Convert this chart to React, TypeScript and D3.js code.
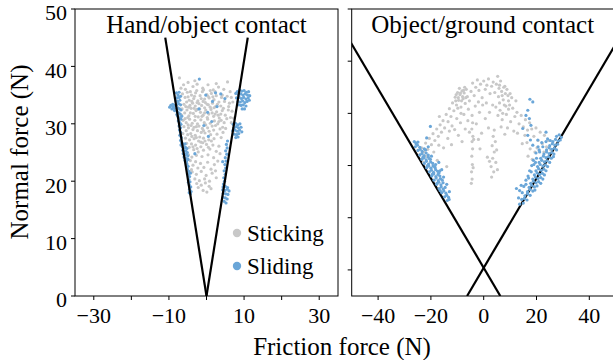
import React from 'react';
import * as d3 from 'd3';

type P = [number, number];

// ---------- data (friction force F, normal force N) ----------
const handSticking: P[] = [
[-7.2,38.0],[-6.1,36.8],[-4.9,37.2],[-3.6,36.5],[-2.5,36.9],[-1.0,36.2],[0.4,36.8],[1.8,35.9],[3.2,36.4],[5.6,37.3],[4.6,36.0],[6.3,35.6],
[-6.4,35.2],[-5.7,34.6],[-5.1,35.5],[-4.6,34.1],[-4.0,35.0],[-3.4,34.4],[-2.9,35.4],[-2.3,34.0],[-1.7,34.9],[-1.1,35.6],[-0.5,34.3],[0.1,35.1],[0.7,34.5],[1.3,35.3],[2.0,34.2],[2.6,34.9],[3.3,33.8],[4.0,34.6],[4.8,33.9],[5.5,34.8],[6.1,33.6],[-6.0,33.4],[-5.3,33.8],[-4.4,33.2],[-3.7,33.6],[-3.0,33.1],[-2.0,33.5],[-1.3,33.2],[-0.3,33.7],[0.5,33.3],[1.6,33.6],[2.4,33.0],
[-6.5,32.6],[-5.8,31.9],[-5.2,32.4],[-4.7,31.4],[-4.1,32.7],[-3.5,31.8],[-2.8,32.3],[-2.2,31.2],[-1.6,32.0],[-0.9,31.5],[-0.2,32.4],[0.6,31.7],[1.2,32.5],[1.9,31.3],[2.7,32.1],[3.4,31.0],[4.2,32.3],[5.0,31.5],[5.8,32.4],[6.4,31.1],[-6.2,30.6],[-5.4,30.2],[-4.5,30.8],[-3.8,30.1],[-3.1,30.6],[-2.4,30.0],[-1.5,30.7],[-0.6,30.2],[0.3,30.8],[1.0,30.1],[2.1,30.5],[3.0,30.0],[3.9,30.6],[4.7,30.2],
[-6.0,29.5],[-5.4,28.8],[-4.8,29.3],[-4.2,28.3],[-3.6,29.0],[-3.0,28.0],[-2.4,28.8],[-1.8,27.7],[-1.1,29.2],[-0.4,28.4],[0.3,29.3],[1.1,28.1],[1.9,28.9],[2.8,28.2],[3.6,29.1],[-5.6,27.5],[-4.5,27.2],[-3.3,27.4],[-2.1,27.0],[-0.8,27.5],[0.6,27.2],[2.0,27.4],[-0.2,29.8],
[-5.3,26.6],[-4.6,25.9],[-4.0,26.5],[-3.4,25.5],[-2.9,26.3],[-2.2,25.1],[-1.5,26.0],[-0.8,25.4],[0.0,26.4],[0.9,25.6],[1.7,26.3],[2.6,25.2],[3.3,26.1],[-4.8,24.6],[-3.9,24.2],[-2.7,24.5],[-1.2,24.3],[0.4,24.6],[1.9,24.1],[3.6,24.8],
[-4.3,23.6],[-3.6,22.8],[-2.9,23.4],[-2.3,22.3],[-1.6,23.1],[-0.7,22.4],[0.3,23.3],[1.2,22.1],[2.1,22.9],[3.0,23.5],[-3.8,21.6],[-2.7,21.2],[-1.4,21.7],[-0.1,21.0],[1.5,21.4],[2.6,20.6],[-3.1,20.4],[-1.9,20.1],[0.8,20.0],
[-2.6,19.6],[-1.4,19.3],[-0.3,19.7],[0.7,19.1],[-0.9,18.4],[1.2,18.7],
[-4.9,34.7],[-4.3,35.6],[-3.2,34.8],[-2.6,35.8],[-1.4,34.4],[-0.8,35.9],[0.4,34.8],[1.0,35.8],[1.7,34.7],[2.3,35.6],
[-5.5,33.0],[-4.8,32.9],[-3.9,33.9],[-3.3,32.7],[-2.5,33.7],[-1.8,32.6],[-0.9,33.9],[-0.5,32.8],[0.2,33.4],[1.0,32.9],[2.0,32.8],[2.9,33.4],[3.8,33.1],[4.5,32.7],
[-5.0,31.1],[-4.3,31.9],[-3.0,31.3],[-2.5,32.5],[-1.2,31.3],[-0.5,31.9],[0.2,31.1],[1.5,31.9],[2.3,31.7],[3.1,31.5],[3.8,31.7],
[-5.7,30.9],[-4.9,29.8],[-4.1,29.7],[-3.3,29.4],[-2.7,29.5],[-2.0,29.6],[-1.4,28.5],[-0.8,28.8],[0.7,28.7],[1.5,29.6],[2.4,29.7],[3.3,30.4],[4.3,29.4],
[-5.0,28.1],[-3.9,27.8],[-2.7,27.6],[-1.5,26.8],[-0.4,27.0],[1.3,27.0],[-3.6,26.0],[-2.5,25.7],[-1.0,26.7],[0.5,25.9],
[6.8,32.2],[7.2,31.0],[6.6,30.2],[5.4,30.9],[5.1,29.2],
[-6.8,36.2],[-5.6,36.0],[-3.1,37.5],[2.6,37.0],[4.2,35.0],[6.6,34.6],[7.0,33.8],[5.9,33.0],[-6.6,31.5],[-6.3,28.3],[3.9,27.6],[4.4,28.5],[-4.0,22.0],[2.4,21.8],[-0.5,20.4],[-2.2,18.9],[0.1,18.1]
];

const handSliding: P[] = [
[-9.8,32.9],[-9.5,33.2],[-9.2,32.6],[-8.9,33.0],[-8.6,32.7],[-8.3,33.2],[-9.0,33.4],[-8.5,32.3],
[-8.0,35.4],[-7.6,35.0],[-7.9,34.5],[-7.3,34.6],[-7.7,33.9],[-7.1,34.1],[-7.9,33.3],[-7.4,33.5],[-6.9,33.3],[-7.6,32.8],[-7.2,32.6],[-6.8,32.4],[-7.8,32.1],[-7.4,31.9],[-7.0,31.7],[-7.6,31.3],[-7.2,31.0],[-6.8,30.8],[-7.5,30.5],[-7.1,30.2],[-6.8,29.9],[-7.3,29.6],[-6.9,29.3],[-8.1,34.0],[-7.3,35.5],[-6.9,34.8],[-7.9,31.6],[-6.6,31.3],
[-7.2,28.9],[-6.9,28.5],[-7.1,28.0],[-6.7,27.6],[-6.9,27.1],[-6.6,26.7],[-6.8,26.3],
[-6.5,26.6],[-6.1,26.4],[-5.7,26.5],[-6.4,26.0],[-6.0,25.8],[-5.6,25.9],[-5.2,25.7],[-6.3,25.4],[-5.9,25.2],[-5.5,25.3],[-5.1,25.0],[-6.2,24.8],[-5.8,24.6],[-5.4,24.7],[-5.0,24.4],[-6.0,24.2],[-5.6,24.0],[-5.2,23.9],[-5.7,23.6],[-5.3,23.4],[-4.9,23.8],
[-5.2,23.0],[-4.9,22.6],[-5.1,22.1],[-4.7,21.7],[-4.9,21.2],[-4.5,20.8],[-4.7,20.3],[-4.4,19.9],[-4.6,19.4],[-4.2,19.0],[-4.5,18.6],[-4.1,18.2],[-4.3,17.8],[-4.6,18.0],[-4.8,19.8],[-4.3,21.4],
[-1.9,37.8],[1.6,33.9],[-2.0,32.6],[0.3,32.0],[2.8,33.0],[3.8,35.2],[2.4,35.4],[-0.7,29.7],[1.4,30.4],[-3.1,24.8],[0.5,27.8],[4.9,34.4],[-0.2,35.0],
[8.2,35.6],[8.8,35.9],[9.4,35.7],[10.0,35.8],[10.6,35.5],[11.2,35.6],[8.5,35.1],[9.1,35.2],[9.7,35.0],[10.3,35.2],[10.9,35.0],[11.5,34.9],[8.0,34.5],[8.7,34.6],[9.3,34.4],[9.9,34.6],[10.5,34.3],[11.1,34.5],[8.4,33.9],[9.0,33.8],[9.6,34.0],[10.2,33.7],[10.8,33.9],[11.4,34.1],[9.2,33.2],[9.8,33.3],[10.5,33.1],[10.1,32.6],[9.5,32.6],[8.6,33.3],[7.8,35.3],
[7.1,29.9],[7.7,30.1],[8.3,29.8],[8.9,30.0],[7.3,29.3],[7.9,29.5],[8.5,29.3],[9.2,29.4],[7.0,28.8],[7.6,28.9],[8.2,28.7],[8.8,28.9],[9.4,28.6],[7.4,28.2],[8.0,28.1],[8.6,28.3],[7.8,27.6],[8.4,27.7],
[5.6,27.0],[5.3,26.4],[5.5,25.8],[5.1,25.3],[5.4,24.7],[5.0,24.1],[5.2,23.5],[4.9,22.9],[5.1,22.3],[4.7,21.8],[5.0,21.2],[4.6,20.6],[4.8,20.0],[4.5,19.5],[4.3,23.4],
[4.4,19.0],[5.0,19.1],[5.6,18.9],[4.3,18.5],[4.9,18.4],[5.5,18.6],[6.0,18.3],[4.5,17.9],[5.1,17.8],[5.7,17.7],[4.4,17.2],[5.0,17.1],[5.5,16.9],[4.7,16.5],[5.2,16.2]
];

const groundSticking: P[] = [
[-24.2,22.1],[-23.5,23.4],[-22.6,22.6],[-22.0,24.3],[-21.2,23.1],[-20.6,25.2],[-19.8,24.0],[-19.2,26.1],[-18.5,24.8],[-17.8,27.0],[-17.2,25.6],[-16.5,27.8],[-16.0,26.4],[-15.4,28.6],[-14.8,27.2],[-21.7,21.8],[-18.9,22.6],[-17.0,23.9],
[-14.2,29.8],[-13.5,28.4],[-13.0,30.9],[-12.4,29.4],[-11.8,32.0],[-11.3,30.5],[-10.8,33.1],[-10.3,31.6],[-9.9,34.0],[-9.5,32.5],[-9.0,33.6],[-8.6,31.2],[-8.2,34.3],[-7.8,32.8],[-7.4,33.9],[-7.0,31.9],[-6.6,34.6],[-6.2,33.2],[-5.8,30.8],[-5.4,32.4],[-10.6,32.4],[-9.2,34.8],[-8.0,33.2],[-7.2,35.0],[-12.0,27.6],[-10.2,29.0],[-8.8,28.2],[-7.5,29.8],[-6.0,28.6],[-11.0,26.9],
[-4.8,34.2],[-4.2,35.8],[-3.6,33.4],[-3.0,35.0],[-2.4,36.4],[-1.8,34.4],[-1.2,35.6],[-0.6,33.0],[0.0,36.2],[0.6,34.6],[1.2,35.4],[1.8,36.6],[2.4,33.8],[3.0,35.2],[3.6,36.0],[4.2,34.0],[4.8,35.6],[5.3,37.1],[5.8,34.8],[6.4,36.2],[7.0,33.4],[7.6,35.0],[8.2,33.8],[8.8,34.6],[9.4,32.4],[10.0,33.8],[-2.0,32.2],[1.0,32.0],[3.4,31.6],[6.0,32.0],
[4.6,31.2],[5.4,29.6],[6.2,30.6],[7.0,28.8],[7.8,31.6],[8.6,29.8],[9.4,30.8],[10.2,28.4],[11.0,31.0],[11.8,29.4],[12.6,30.2],[13.4,28.0],[14.2,29.6],[15.0,27.4],[15.8,28.8],[16.6,26.8],[17.4,28.2],[9.0,27.2],[11.4,26.6],[6.6,27.4],[12.2,32.4],[10.6,33.0],
[18.2,27.0],[19.0,25.6],[19.8,27.2],[20.6,24.8],[21.4,26.4],[22.2,24.2],[23.0,25.8],[23.8,23.6],[24.6,24.8],[25.4,23.0],[16.4,24.4],[17.6,23.2],[19.4,22.6],[15.6,25.8],[21.0,22.8],
[-4.4,29.6],[-4.2,28.2],[-4.5,27.0],[-4.1,25.6],[-4.4,24.6],[-4.2,23.2],[-4.5,21.8],[-4.3,20.2],[-4.6,18.8],[-4.4,17.4],[-4.7,16.6],[-3.8,25.0],[-4.0,19.6],
[4.0,26.8],[3.6,25.6],[4.4,24.6],[3.2,23.8],[4.0,22.6],[3.4,21.4],[4.6,20.6],[2.8,19.8],[3.8,18.8],[3.0,17.8],[4.9,23.0],[1.4,21.6],[2.2,20.8],[5.2,19.2],
[-1.6,30.2],[0.6,29.0],[-2.8,28.0],[1.8,27.2],[-0.8,26.2],[-7.0,27.0],[-9.6,25.8],[-13.6,25.2],[-15.2,23.4],[-12.2,24.0],[16.8,21.8],[18.4,21.2],[-17.6,21.0],[-14.0,19.8],
[-10.4,33.6],[-9.6,33.0],[-8.8,33.9],[-8.4,32.4],[-7.6,34.4],[-6.8,33.0],[-9.8,31.0],[6.0,35.4],[6.8,34.2],[7.4,32.6],[8.0,35.2],[8.4,31.4],[9.2,33.4],[9.8,31.6],[7.2,30.0],[5.6,33.2],
[-16.8,29.4],[-13.0,26.6],[-8.6,30.0],[-3.2,31.4],[-0.4,31.6],[2.2,30.2],[-5.4,26.4],[-2.0,25.0],[12.8,26.2],[14.6,24.2],[20.2,23.4],[22.8,22.6],[-22.8,20.6],[-8.2,24.6],[-1.4,23.2],[8.0,26.0]
];

const groundSliding: P[] = [
[-26.3,24.6],[-25.6,24.3],[-24.9,24.5],
[-25.9,23.6],[-25.1,23.9],[-24.2,23.5],
[-24.9,22.9],[-24.1,23.1],[-23.3,22.7],[-22.5,23.2],
[-24.2,22.0],[-23.4,22.3],[-22.6,21.9],[-21.8,22.4],[-21.0,22.0],
[-23.4,21.2],[-22.6,21.5],[-21.8,21.1],[-21.0,21.6],[-20.2,21.2],
[-22.5,20.4],[-21.7,20.8],[-20.9,20.3],[-20.1,20.7],[-19.3,20.4],
[-21.6,19.6],[-20.8,19.9],[-20.0,19.5],[-19.2,19.9],[-18.4,19.6],
[-20.6,18.8],[-19.8,19.1],[-19.0,18.7],[-18.2,19.2],[-17.4,18.9],
[-19.7,18.0],[-18.9,18.4],[-18.1,17.9],[-17.3,18.3],[-16.6,18.0],
[-18.8,17.2],[-18.0,17.6],[-17.2,17.1],[-16.4,17.5],[-15.7,17.2],
[-17.8,16.4],[-17.0,16.8],[-16.2,16.3],[-15.4,16.7],
[-16.9,15.6],[-16.1,15.9],[-15.3,15.5],[-14.6,15.8],
[-15.9,14.8],[-15.1,15.1],[-14.3,14.7],
[-14.8,14.0],[-14.0,14.3],[-13.3,13.9],
[-13.8,13.3],[-13.1,13.5],
[-25.6,24.2],[-20.2,27.5],[-21.6,25.3],[-17.0,20.6],[-15.9,19.2],
[-23.0,21.6],[-21.3,20.0],[-19.5,18.3],[-17.7,16.6],[-16.5,15.2],[-22.0,23.0],[-20.5,21.3],[-18.6,19.8],[-16.9,18.6],
[-19.8,21.8],[-18.2,20.2],[-16.6,19.0],[-15.2,17.8],[-14.0,16.4],[-13.0,15.0],[-21.0,23.6],
[27.6,25.6],[28.6,25.9],[29.4,25.4],
[26.2,24.6],[27.2,25.0],[28.2,24.7],[29.0,24.9],
[25.0,23.8],[26.0,24.2],[27.0,23.9],[28.0,24.1],
[23.8,23.0],[24.8,23.4],[25.8,23.1],[26.8,23.3],[27.6,23.0],
[22.8,22.2],[23.8,22.6],[24.8,22.3],[25.8,22.5],[26.6,22.2],
[21.6,21.4],[22.6,21.8],[23.6,21.5],[24.6,21.7],[25.6,21.4],[26.4,21.7],
[21.0,20.6],[22.0,21.0],[23.0,20.7],[24.0,20.9],[25.0,20.6],
[20.4,19.8],[21.4,20.2],[22.4,19.9],[23.4,20.1],[24.2,19.8],
[19.8,19.0],[20.8,19.4],[21.8,19.1],[22.8,19.3],[23.6,19.0],
[19.2,18.2],[20.2,18.6],[21.2,18.3],[22.2,18.5],[23.0,18.2],
[18.6,17.4],[19.6,17.8],[20.6,17.5],[21.6,17.7],[22.4,17.4],
[17.8,16.6],[18.8,17.0],[19.8,16.7],[20.8,16.9],[21.6,16.6],
[17.2,15.8],[18.2,16.2],[19.2,15.9],[20.2,16.1],
[16.6,15.0],[17.6,15.4],[18.6,15.1],[19.4,15.3],
[15.6,14.2],[16.6,14.6],[17.6,14.3],
[13.2,13.8],[14.4,13.5],[15.4,13.7],[16.4,13.4],
[15.0,12.8],[13.6,12.6],
[12.4,15.6],[13.6,15.2],[14.2,16.2],
[20.0,21.4],[21.2,22.6],[22.4,23.6],[23.6,24.6],[19.0,20.2],[18.0,18.8],[17.0,17.6],[16.0,16.4],[25.2,24.8],
[19.8,22.4],[20.6,23.6],[18.8,21.0],[18.2,20.0],[17.4,19.0],[16.8,18.0],[16.0,17.2],[15.2,16.0],[14.6,14.8],[22.0,24.4],[21.0,23.0],[19.6,20.6],
[17.5,32.7],[18.6,32.2],[16.7,30.6],[16.0,29.6],[17.3,29.0],[17.9,27.7],[16.7,25.8],[17.7,24.9],[18.6,23.9],[20.5,24.9],[23.6,26.4],[24.2,25.1],[14.8,27.1]
];

// cone parameters (friction coefficients)
const handMu = 0.244;
const handConeTop = 45;
const groundMu = 1.166;
const groundApexN = 0.4;

// ticks
const yTicks = [0, 10, 20, 30, 40, 50];
const leftXTicks = [-30, -20, -10, 0, 10, 20, 30];
const leftXLabels = [-30, -10, 10, 30];
const rightXTicks = [-40, -20, 0, 20, 40];

const titles = ['Hand/object contact', 'Object/ground contact'];
const legendLabels = ['Sticking', 'Sliding'];

const GRAY = '#c8c8c8';
const BLUE = '#6aa6d8';
const FF = "'Liberation Serif', 'Times New Roman', serif";
const ts = { fontFamily: FF };

const fmt = (v: number) => (v < 0 ? '\u2212' + Math.abs(v) : String(v));

export default function App() {
  const top = 9, bottom = 296;
  const xL = d3.scaleLinear().domain([-35, 35]).range([75, 338]);
  const yL = d3.scaleLinear().domain([0, 50]).range([bottom, top]);
  const xR = d3.scaleLinear().domain([-50, 50]).range([351.7, 615.7]);
  const yR = d3.scaleLinear().domain([-5, 50]).range([bottom, top]);

  const line = (xs: any, ys: any) =>
    d3.line<P>().x((d) => xs(d[0])).y((d) => ys(d[1]));

  const handLeft: P[] = [[0, 0], [-handMu * handConeTop, handConeTop]];
  const handRight: P[] = [[0, 0], [handMu * handConeTop, handConeTop]];
  const gLeft: P[] = [[groundMu * (groundApexN + 5), -5], [-groundMu * (50 - groundApexN), 50]];
  const gRight: P[] = [[-groundMu * (groundApexN + 5), -5], [groundMu * (50 - groundApexN), 50]];

  const r = 1.6;
  const tickLen = 4;
  const tickFont = 22;

  return (
    <svg width={613} height={360} style={{ position: 'absolute', left: 0, top: 0, background: '#fff', fontFamily: FF }}>
      <defs>
        <clipPath id="clipL"><rect x={75} y={top} width={263} height={bottom - top} /></clipPath>
        <clipPath id="clipR"><rect x={351.7} y={top} width={264} height={bottom - top} /></clipPath>
      </defs>
      <rect x={0} y={0} width={613} height={360} fill="#fff" />

      {/* Left panel */}
      <g clipPath="url(#clipL)">
        {handSticking.map((d, i) => (
          <circle key={'hs' + i} cx={xL(d[0])} cy={yL(d[1])} r={r} fill={GRAY} />
        ))}
        {handSliding.map((d, i) => (
          <circle key={'hl' + i} cx={xL(d[0])} cy={yL(d[1])} r={r} fill={BLUE} />
        ))}
        <path d={line(xL, yL)(handLeft) || ''} stroke="#000" strokeWidth={2.2} fill="none" />
        <path d={line(xL, yL)(handRight) || ''} stroke="#000" strokeWidth={2.2} fill="none" />
      </g>
      <rect x={75} y={top} width={263} height={bottom - top} fill="none" stroke="#000" strokeWidth={1} />
      {yTicks.map((t) => (
        <g key={'yl' + t}>
          <line x1={75} x2={75 - tickLen} y1={yL(t)} y2={yL(t)} stroke="#000" />
          <text style={ts} x={75 - tickLen - 4} y={yL(t)} dy="0.52em" textAnchor="end" fontSize={tickFont}>{t}</text>
        </g>
      ))}
      {leftXTicks.map((t) => (
        <g key={'xl' + t}>
          <line x1={xL(t)} x2={xL(t)} y1={bottom} y2={bottom + tickLen} stroke="#000" />
          {leftXLabels.includes(t) && (
            <text style={ts} x={xL(t)} y={bottom + tickLen + 23} textAnchor="middle" fontSize={tickFont}>{fmt(t)}</text>
          )}
        </g>
      ))}
      <text style={ts} x={(75 + 338) / 2} y={33} textAnchor="middle" fontSize={25}>{titles[0]}</text>

      {/* Legend */}
      <circle cx={237} cy={233} r={4.2} fill={GRAY} />
      <text style={ts} x={247} y={241} fontSize={23}>{legendLabels[0]}</text>
      <circle cx={237} cy={266} r={4.2} fill={BLUE} />
      <text style={ts} x={247} y={274} fontSize={23}>{legendLabels[1]}</text>

      {/* Right panel */}
      <g clipPath="url(#clipR)">
        <path d={line(xR, yR)(gLeft) || ''} stroke="#000" strokeWidth={2.2} fill="none" />
        <path d={line(xR, yR)(gRight) || ''} stroke="#000" strokeWidth={2.2} fill="none" />
        {groundSticking.map((d, i) => (
          <circle key={'gs' + i} cx={xR(d[0])} cy={yR(d[1])} r={r} fill={GRAY} />
        ))}
        {groundSliding.map((d, i) => (
          <circle key={'gl' + i} cx={xR(d[0])} cy={yR(d[1])} r={r} fill={BLUE} />
        ))}
      </g>
      <rect x={351.7} y={top} width={264} height={bottom - top} fill="none" stroke="#000" strokeWidth={1} />
      {yTicks.map((t) => (
        <line key={'yr' + t} x1={351.7} x2={351.7 - tickLen} y1={yR(t)} y2={yR(t)} stroke="#000" />
      ))}
      {rightXTicks.map((t) => (
        <g key={'xr' + t}>
          <line x1={xR(t)} x2={xR(t)} y1={bottom} y2={bottom + tickLen} stroke="#000" />
          <text style={ts} x={xR(t)} y={bottom + tickLen + 23} textAnchor="middle" fontSize={tickFont}>{fmt(t)}</text>
        </g>
      ))}
      <text style={ts} x={(351.7 + 615.7) / 2 - 1} y={33} textAnchor="middle" fontSize={25}>{titles[1]}</text>

      {/* Axis labels */}
      <text style={ts} x={342} y={355} textAnchor="middle" fontSize={25}>Friction force (N)</text>
      <text style={ts} transform={`translate(28,152) rotate(-90)`} textAnchor="middle" fontSize={25}>Normal force (N)</text>
    </svg>
  );
}
